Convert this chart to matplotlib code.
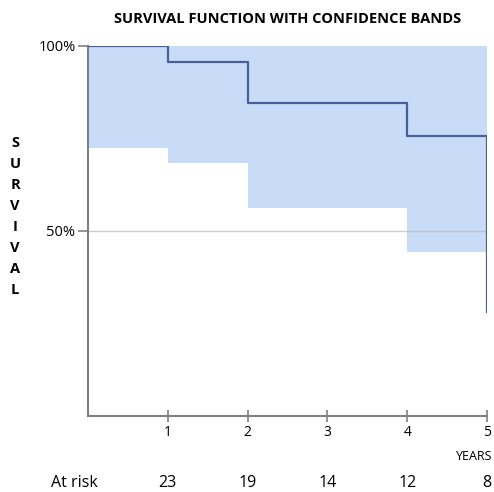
import matplotlib.pyplot as plt

plt.rcParams['font.family'] = ['Open Sans', 'DejaVu Sans']

# Kaplan-Meier estimate
times = [0, 1, 2, 4, 5]
survival = [1.0, 0.955, 0.845, 0.757, 0.282]

# confidence band (upper stays at 100%)
band_lower = [0.723, 0.682, 0.561, 0.444, 0.444]
band_upper = [1.0, 1.0, 1.0, 1.0, 1.0]

year_ticks = [1, 2, 3, 4, 5]
at_risk = [23, 19, 14, 12, 8]

y_ticks = [0.5, 1.0]
y_tick_labels = ["50%", "100%"]

ylabel = "SURVIVAL"


fig = plt.figure(figsize=(4.94, 4.92), dpi=100)
ax = fig.add_axes([0.178, 0.1535, 0.808, 0.754])

ax.fill_between(
    times, band_lower, band_upper,
    step="post", color="#c8dcf8", linewidth=0, zorder=1
)

ax.axhline(0.5, color="#b8b8b8", linewidth=1.0, alpha=0.7, zorder=2)

ax.step(
    times, survival, where="post",
    color="#4a5e99", linewidth=1.6, zorder=3
)

ax.set_xlim(0, 5)
ax.set_ylim(0, 1)

for side in ["top", "right"]:
    ax.spines[side].set_visible(False)
for side in ["left", "bottom"]:
    ax.spines[side].set_color("#808080")
    ax.spines[side].set_linewidth(1.5)

ax.set_xticks(year_ticks)
ax.set_xticklabels([str(t) for t in year_ticks])
ax.set_yticks(y_ticks)
ax.set_yticklabels(y_tick_labels)

ax.tick_params(
    axis="x", direction="inout", length=8, width=1.2,
    color="#808080", labelsize=10, pad=2
)
ax.tick_params(
    axis="y", direction="out", length=7, width=1.2,
    color="#808080", labelsize=10.5, pad=2
)

ax.set_title(
    "SURVIVAL FUNCTION WITH CONFIDENCE BANDS",
    fontsize=10.5, fontweight="bold", pad=16, x=0.5
)

# vertical stacked y label
for k, ch in enumerate(ylabel):
    fig.text(
        15 / 494, 1 - (143 + k * 21) / 492, ch,
        fontsize=10.5, fontweight="bold", ha="center", va="center"
    )

fig.text(
    492 / 494, 1 - 456 / 492, "YEARS",
    fontsize=9, ha="right", va="center"
)

# numbers at risk under each year
ax.text(
    -0.175, -0.18, "At risk",
    transform=ax.get_xaxis_transform(),
    fontsize=11.5, ha="center", va="center", clip_on=False
)
for t, n in zip(year_ticks, at_risk):
    ax.text(
        t, -0.18, str(n),
        transform=ax.get_xaxis_transform(),
        fontsize=11.5, ha="center", va="center", clip_on=False
    )

plt.savefig("out.png", dpi=100)
